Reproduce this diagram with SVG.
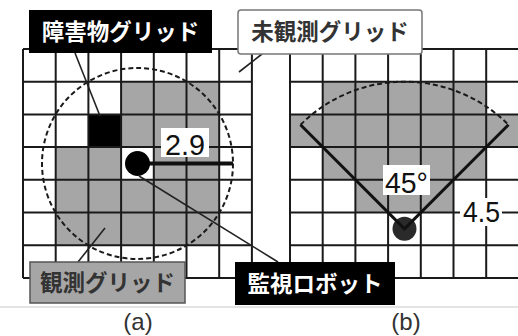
<svg xmlns="http://www.w3.org/2000/svg" width="518" height="336" viewBox="0 0 518 336">
<defs>
<style>
.g{fill:#a6a6a6}
.grid{stroke:#1a1a1a;stroke-width:2;fill:none}
.dash{stroke:#1a1a1a;stroke-width:2;fill:none;stroke-dasharray:5 3}
.lead{stroke:#222;stroke-width:1.6;fill:none}
.jp{font-family:"Noto Sans CJK JP","Noto Sans",sans-serif;font-size:22.5px;font-weight:bold;text-anchor:middle}
.num{font-family:"Liberation Sans",Arial,sans-serif;font-size:30px;fill:#111;text-anchor:middle}
.cap{font-family:"Liberation Sans",Arial,sans-serif;font-size:24px;fill:#333;text-anchor:middle}
</style>
</defs>
<rect width="518" height="336" fill="#fff"/>
<g id="panel-a">
<g id="cells-a">
<rect class="g" x="121.1" y="81.7" width="98.1" height="65.4"/>
<rect class="g" x="55.7" y="147.1" width="65.4" height="32.7"/>
<rect class="g" x="153.8" y="147.1" width="65.4" height="32.7"/>
<rect class="g" x="55.7" y="179.8" width="163.5" height="65.4"/>
<rect x="88.4" y="114.4" width="32.7" height="32.7" fill="#000"/>
</g>
<path class="grid" d="M23 49V277.9M55.7 49V277.9M88.4 49V277.9M121.1 49V277.9M153.8 49V277.9M186.5 49V277.9M219.2 49V277.9M251.9 49V277.9M23 49H251.9M23 81.7H251.9M23 114.4H251.9M23 147.1H251.9M23 179.8H251.9M23 212.5H251.9M23 245.2H251.9M23 277.9H251.9"/>
<circle class="dash" cx="137.5" cy="163.5" r="95.5"/>
<line x1="137.5" y1="163.5" x2="233" y2="163.5" stroke="#111" stroke-width="4"/>
<circle id="robot-a" cx="137.5" cy="163.5" r="12.5" fill="#000"/>
</g>
<g id="panel-b">
<g id="cells-b">
<rect class="g" x="322.7" y="81.7" width="163.5" height="32.7"/>
<rect class="g" x="290" y="114.4" width="228" height="32.7"/>
<rect class="g" x="322.7" y="147.1" width="163.5" height="32.7"/>
<rect class="g" x="355.4" y="179.8" width="98.1" height="32.7"/>
</g>
<path class="grid" d="M290 49V277.9M322.7 49V277.9M355.4 49V277.9M388.1 49V277.9M420.8 49V277.9M453.5 49V277.9M486.2 49V277.9M290 49H518M290 81.7H518M290 114.4H518M290 147.1H518M290 179.8H518M290 212.5H518M290 245.2H518M290 277.9H518"/>
<path class="dash" d="M300.5 124.8A147 147 0 0 1 508.5 124.8"/>
<circle id="robot-b" cx="404.5" cy="228.8" r="12" fill="#2a2a2a"/>
<path d="M300.5 124.8L404.5 228.8L508.5 124.8" stroke="#111" stroke-width="3" fill="none"/>
</g>
<g id="connectors">
<line class="lead" x1="75" y1="53" x2="100" y2="116"/>
<line class="lead" x1="262" y1="54" x2="239" y2="72"/>
<line class="lead" x1="78" y1="262" x2="105" y2="228"/>
<line class="lead" x1="139" y1="176" x2="278" y2="262"/>
</g>
<g id="label-obstacle">
<rect x="29" y="10" width="183" height="43" fill="#000"/>
<text class="jp" x="120.5" y="40" fill="#fff">障害物グリッド</text>
</g>
<g id="label-unobserved">
<rect x="238" y="10" width="184" height="44" rx="3" fill="#fff" stroke="#777" stroke-width="1.5"/>
<text class="jp" x="330" y="40" fill="#333">未観測グリッド</text>
</g>
<g id="label-observed">
<rect x="30" y="262" width="155" height="41" fill="#a6a6a6" stroke="#555" stroke-width="1.5"/>
<text class="jp" x="107.5" y="291" fill="#333">観測グリッド</text>
</g>
<g id="label-robot">
<rect x="235" y="262" width="160" height="43" fill="#000"/>
<text class="jp" x="315" y="292" fill="#fff">監視ロボット</text>
</g>
<g id="label-29">
<rect x="161" y="128" width="48" height="29" fill="#fff"/>
<text class="num" x="185" y="155" textLength="40" lengthAdjust="spacingAndGlyphs">2.9</text>
</g>
<g id="label-45">
<rect x="383" y="165" width="47" height="30" fill="#fff"/>
<text class="num" x="406.5" y="193" textLength="43" lengthAdjust="spacingAndGlyphs">45°</text>
</g>
<g id="label-45r">
<rect x="460" y="198" width="42" height="28" fill="#fff"/>
<text class="num" x="481.5" y="222" textLength="37" lengthAdjust="spacingAndGlyphs">4.5</text>
</g>
<line x1="0" y1="307" x2="518" y2="307" stroke="#c8c8c8" stroke-width="1"/>
<text class="cap" x="138" y="330">(a)</text>
<text class="cap" x="406" y="330">(b)</text>
</svg>
